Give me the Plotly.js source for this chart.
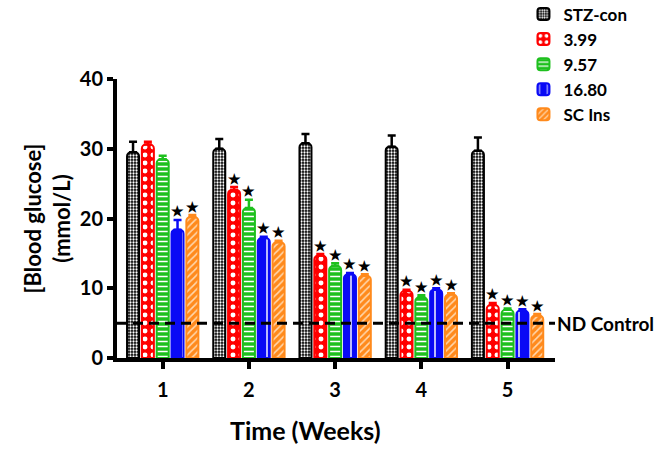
<!DOCTYPE html>
<html>
<head>
<meta charset="utf-8">
<script src="https://cdn.plot.ly/plotly-3.0.1.min.js"></script>
<style>html,body{margin:0;padding:0;background:#fff;}#chart{width:656px;height:449px;}</style>
</head>
<body>
<div id="chart"></div>
<script>
// ---- data ----
const weeks = [1, 2, 3, 4, 5];
const weekLabels = ['1', '2', '3', '4', '5'];
const seriesNames = ['STZ-con', '3.99', '9.57', '16.80', 'SC Ins'];

const stzCon    = [29.5, 30.0, 30.8, 30.3, 29.7];
const stzConErr = [1.5, 1.4, 1.3, 1.6, 1.9];
const dose399    = [30.6, 24.1, 14.7, 9.6, 7.6];
const dose399Err = [0.4, 0.4, 0.2, 0.2, 0.3];
const dose957    = [28.5, 21.5, 13.2, 8.7, 6.9];
const dose957Err = [0.5, 1.2, 0.4, 0.3, 0.2];
const dose1680    = [18.4, 17.2, 12.0, 9.8, 6.8];
const dose1680Err = [1.4, 0.2, 0.2, 0.2, 0.2];
const scIns    = [20.2, 16.6, 11.8, 9.1, 6.1];
const scInsErr = [0.3, 0.2, 0.2, 0.2, 0.2];

// significance markers (star) per series & week
const stzConSig  = [false, false, false, false, false];
const dose399Sig = [false, true, true, true, true];
const dose957Sig = [false, true, true, true, true];
const dose1680Sig = [true, true, true, true, true];
const scInsSig   = [true, true, true, true, true];

const ndControl = 5;
const ndLabel = 'ND Control';
const xTitle = 'Time (Weeks)';
const yTitle = '[Blood glucose]<br>(mmol/L)';

// ---- styling ----
const FONT = 'Lato, "Open Sans", sans-serif';
const styles = [
  {color: '#000000', pattern: {shape: '.', bgcolor: '#000000', fgcolor: '#ffffff', size: 3, solidity: 0.45, fillmode: 'replace'}},
  {color: '#ff0000', pattern: {shape: '.', bgcolor: '#ff0000', fgcolor: '#ffffff', size: 8, solidity: 0.3, fillmode: 'replace'}},
  {color: '#1ec01e', pattern: {shape: '-', bgcolor: '#1ec01e', fgcolor: '#ffffff', size: 5, solidity: 0.3, fillmode: 'replace'}},
  {color: '#0a0af5', pattern: {shape: '|', bgcolor: '#0a0af5', fgcolor: '#ffffff', size: 12, solidity: 0.12, fillmode: 'replace'}},
  {color: '#ff8a1c', pattern: {shape: '/', bgcolor: '#ff8a1c', fgcolor: '#ffd9b0', size: 5, solidity: 0.3, fillmode: 'replace'}}
];

const means = [stzCon, dose399, dose957, dose1680, scIns];
const errs = [stzConErr, dose399Err, dose957Err, dose1680Err, scInsErr];
const sigs = [stzConSig, dose399Sig, dose957Sig, dose1680Sig, scInsSig];

const bargap = 0.14;
const nSeries = seriesNames.length;
const slot = (1 - bargap) / nSeries;

const traces = [];
seriesNames.forEach((name, i) => {
  traces.push({
    type: 'bar', name: name, x: weeks, y: means[i],
    marker: {color: styles[i].color, line: {color: styles[i].color, width: 2}, pattern: styles[i].pattern, cornerradius: 4},
    error_y: {type: 'data', symmetric: false, array: errs[i], arrayminus: errs[i].map(() => 0),
              color: styles[i].color, thickness: 2.5, width: 4},
    hoverinfo: 'skip'
  });
});
// stars
seriesNames.forEach((name, i) => {
  const xs = [], ys = [];
  weeks.forEach((w, j) => {
    if (sigs[i][j]) {
      xs.push(w + (i - (nSeries - 1) / 2) * slot);
      ys.push(means[i][j] + errs[i][j]);
    }
  });
  if (xs.length) traces.push({
    type: 'scatter', mode: 'text', x: xs, y: ys, text: xs.map(() => '★'),
    textposition: 'top center', textfont: {size: 14, color: '#000'},
    showlegend: false, hoverinfo: 'skip', cliponaxis: false
  });
});

const layout = {
  width: 656, height: 449,
  margin: {l: 117, r: 101, t: 79, b: 91, autoexpand: false},
  paper_bgcolor: '#fff', plot_bgcolor: '#fff',
  font: {family: FONT, color: '#000', size: 20, weight: 700},
  barmode: 'group', bargap: bargap, bargroupgap: 0.19,
  showlegend: true,
  legend: {x: 0.928, y: 1.296, xanchor: 'left', yanchor: 'top',
           bgcolor: 'rgba(0,0,0,0)', borderwidth: 0,
           font: {family: FONT, size: 17, weight: 700}, traceorder: 'normal', tracegroupgap: 0},
  xaxis: {
    range: [0.47, 5.55], tickvals: weeks, ticktext: weekLabels,
    showline: true, linewidth: 4, linecolor: '#000', showgrid: false, zeroline: false,
    ticks: 'outside', ticklen: 7, tickwidth: 4, tickcolor: '#000', ticklabelstandoff: 4,
    tickfont: {family: FONT, size: 20, weight: 700}
  },
  yaxis: {
    range: [0, 40], dtick: 10, tick0: 0,
    showline: true, linewidth: 4, linecolor: '#000', showgrid: false, zeroline: false,
    ticks: 'outside', ticklen: 6, tickwidth: 4, tickcolor: '#000',
    tickfont: {family: FONT, size: 20, weight: 700},
    title: {text: yTitle, font: {family: FONT, size: 22, weight: 700}, standoff: 4}
  },
  shapes: [{type: 'line', xref: 'paper', x0: 0, x1: 1, yref: 'y', y0: ndControl, y1: ndControl,
            line: {color: '#000', width: 3, dash: '10px,6px'}}],
  annotations: [
    {xref: 'paper', x: 1.0, xanchor: 'left', yref: 'y', y: ndControl, yanchor: 'middle',
     text: ndLabel, showarrow: false, font: {family: FONT, size: 19, weight: 700}},
    {xref: 'paper', x: 0.43, xanchor: 'center', yref: 'paper', y: -0.258, yanchor: 'middle',
     text: xTitle, showarrow: false, font: {family: FONT, size: 25, weight: 700}}
  ]
};

Plotly.newPlot('chart', traces, layout, {displayModeBar: false, staticPlot: true});
</script>
</body>
</html>
